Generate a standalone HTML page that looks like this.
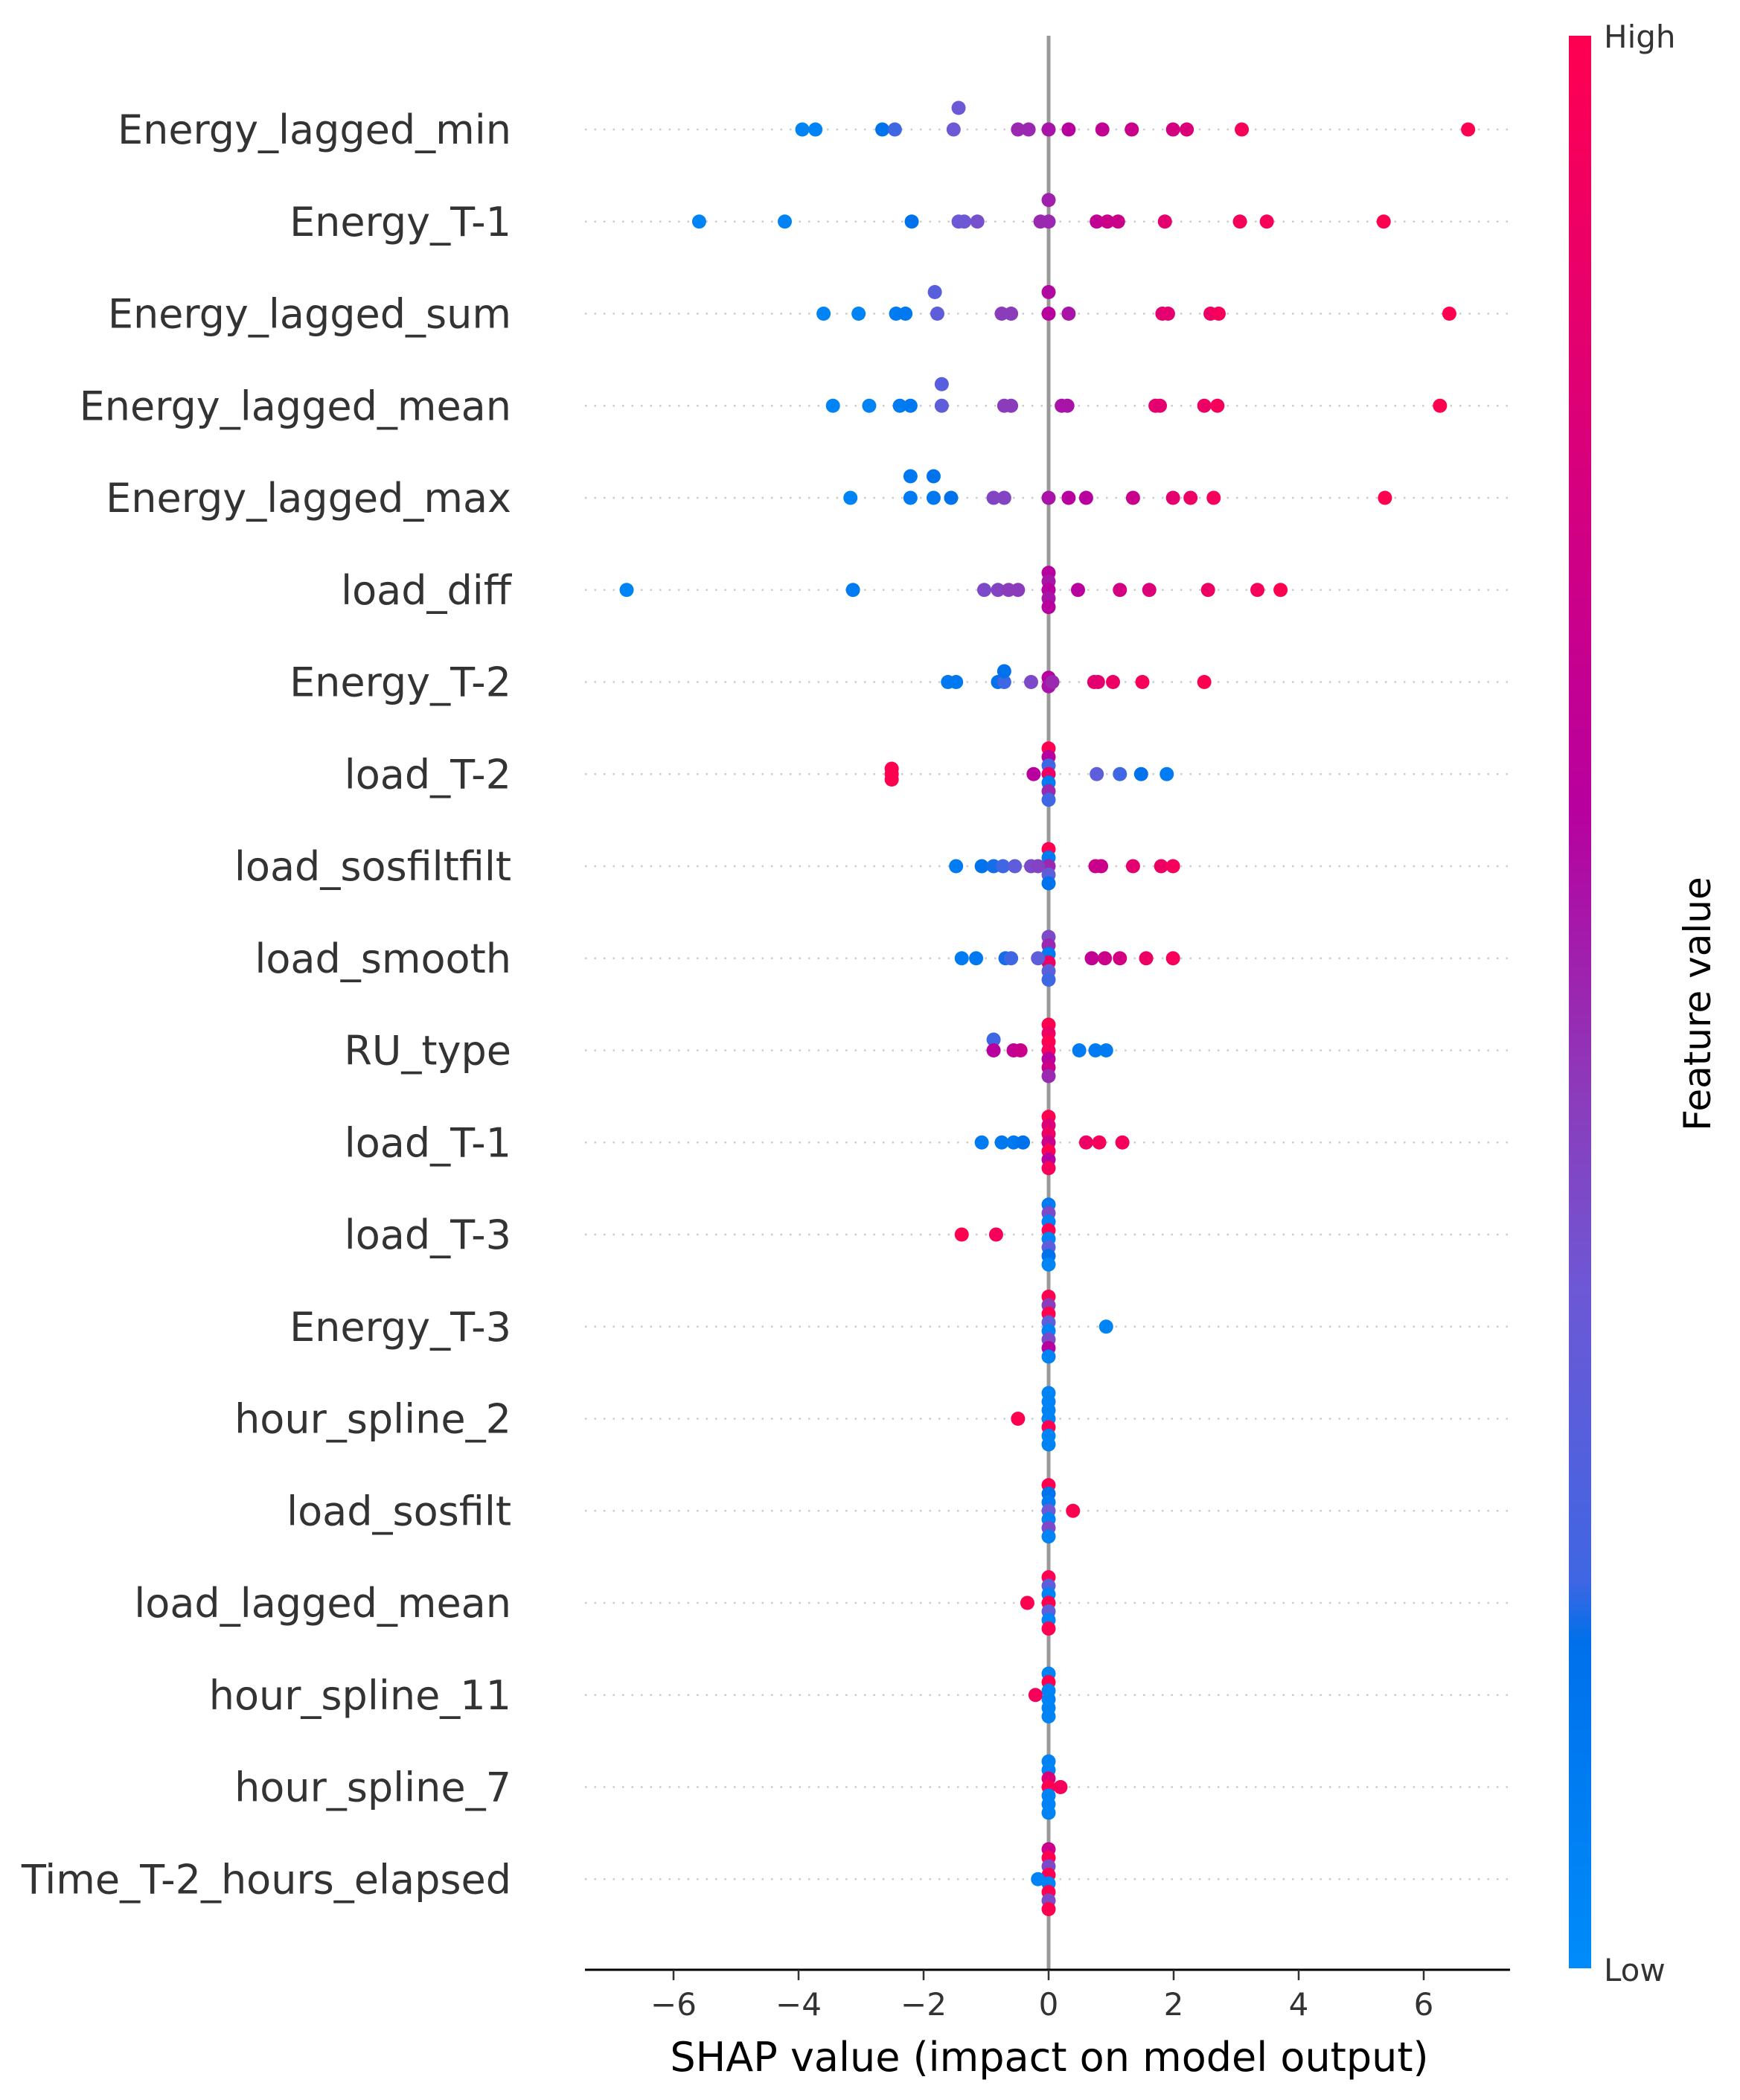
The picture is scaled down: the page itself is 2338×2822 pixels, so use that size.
<!DOCTYPE html>
<html><head><meta charset="utf-8">
<style>
html,body{margin:0;padding:0;background:#fff;}
svg{display:block;font-family:"DejaVu Sans","Liberation Sans",sans-serif;}
</style></head>
<body>
<svg id="chart" width="2338" height="2822" viewBox="0 0 2338 2822">
<defs>
<linearGradient id="cbg" x1="0" y1="1" x2="0" y2="0">
<stop offset="0" stop-color="#008bfa"/>
<stop offset="0.17" stop-color="#0070ea"/>
<stop offset="0.2" stop-color="#3f66e3"/>
<stop offset="0.35" stop-color="#6d58d5"/>
<stop offset="0.45" stop-color="#8b3cbb"/>
<stop offset="0.6" stop-color="#b8009e"/>
<stop offset="1" stop-color="#ff0051"/>
</linearGradient>
</defs>
<g id="grid"></g>
<line id="zeroline" x1="1409" y1="48" x2="1409" y2="2647" stroke="#999" stroke-width="5"/>
<g id="labels"></g>
<g id="dots"></g>
<line x1="786" y1="2647" x2="2029" y2="2647" stroke="#000" stroke-width="3"/>
<g id="xticks"></g>
<text x="1410" y="2783" font-size="54" fill="#000" text-anchor="middle">SHAP value (impact on model output)</text>
<rect x="2108" y="48" width="30" height="2597" fill="url(#cbg)"/>
<text x="2155" y="64" font-size="42" fill="#333">High</text>
<text x="2155" y="2662" font-size="42" fill="#333">Low</text>
<text x="0" y="0" font-size="50" fill="#000" text-anchor="middle" transform="translate(2298,1349) rotate(-90)">Feature value</text>
</svg>
<script>
const features = ["Energy_lagged_min","Energy_T-1","Energy_lagged_sum","Energy_lagged_mean","Energy_lagged_max","load_diff","Energy_T-2","load_T-2","load_sosfiltfilt","load_smooth","RU_type","load_T-1","load_T-3","Energy_T-3","hour_spline_2","load_sosfilt","load_lagged_mean","hour_spline_11","hour_spline_7","Time_T-2_hours_elapsed"];
const xTicks = [-6,-4,-2,0,2,4,6];
const shapValues = [
 [-3.94,-3.73,-2.66,-2.46,-1.52,-1.44,-0.49,-0.32,0,0.32,0.86,1.33,1.99,2.21,3.09,6.71],
 [-5.59,-4.22,-2.19,-1.44,-1.35,-1.14,-0.13,0,0,0.77,0.94,1.11,1.86,3.06,3.49,5.36],
 [-3.6,-3.04,-2.44,-2.29,-1.78,-1.82,-0.75,-0.6,0,0,0.32,1.82,1.91,2.59,2.72,6.41],
 [-3.45,-2.87,-2.38,-2.21,-1.71,-1.71,-0.71,-0.6,0.21,0.3,1.71,1.78,2.49,2.7,6.26],
 [-3.17,-2.21,-1.84,-1.56,-2.21,-1.84,-0.88,-0.71,0,0.32,0.6,1.35,1.99,2.27,2.64,5.38],
 [-6.75,-3.13,-1.03,-0.81,-0.64,-0.49,0.47,1.14,1.61,2.55,3.34,3.71],
 [-1.61,-1.48,-0.81,-0.71,-0.71,-0.28,0.06,0.73,0.79,1.03,1.5,2.49],
 [-2.51,-2.51,-2.51,-0.24,0.77,1.14,1.48,1.89],
 [-1.48,-1.07,-0.88,-0.73,-0.54,-0.28,-0.17,0.75,0.84,1.35,1.8,1.99],
 [-1.39,-1.16,-0.69,-0.6,-0.17,0.69,0.9,1.14,1.56,1.99],
 [-0.88,-0.88,-0.56,-0.45,0.49,0.75,0.92],
 [-1.07,-0.75,-0.56,-0.41,0.6,0.81,1.18],
 [-1.39,-0.84],
 [0.92],
 [-0.49],
 [0.39],
 [-0.34],
 [-0.21],
 [0.19],
 [-0.17]
];
const featureValues = [
 [0.05,0.05,0.15,0.2,0.35,0.35,0.5,0.5,0.55,0.6,0.65,0.7,0.75,0.8,0.95,1],
 [0.05,0.05,0.15,0.35,0.35,0.38,0.5,0.5,0.52,0.65,0.7,0.7,0.85,0.95,0.95,1],
 [0.05,0.05,0.1,0.12,0.3,0.28,0.45,0.45,0.6,0.58,0.55,0.85,0.85,0.9,0.95,1],
 [0.05,0.05,0.1,0.12,0.3,0.28,0.45,0.45,0.55,0.55,0.85,0.85,0.9,0.95,1],
 [0.05,0.1,0.12,0.15,0.12,0.15,0.42,0.42,0.55,0.6,0.6,0.7,0.85,0.9,0.95,1],
 [0.05,0.1,0.4,0.42,0.45,0.45,0.6,0.75,0.8,0.9,0.95,1],
 [0.12,0.12,0.15,0.2,0.15,0.4,0.5,0.85,0.85,0.9,0.95,1],
 [1,1,1,0.6,0.3,0.2,0.15,0.1],
 [0.1,0.15,0.18,0.2,0.3,0.4,0.42,0.7,0.7,0.85,0.9,0.95],
 [0.1,0.12,0.18,0.2,0.3,0.65,0.7,0.75,0.9,0.95],
 [0.2,0.6,0.65,0.7,0.1,0.1,0.1],
 [0.1,0.12,0.12,0.15,0.9,0.95,0.95],
 [1,0.95],
 [0.05],
 [1],
 [1],
 [1],
 [0.95],
 [0.95],
 [0.05]
];
const stackLevels = [
 [0,0,0,0,0,2,0,0,0,0,0,0,0,0,0,0],
 [0,0,0,0,0,0,0,0,2,0,0,0,0,0,0,0],
 [0,0,0,0,0,2,0,0,0,2,0,0,0,0,0,0],
 [0,0,0,0,0,2,0,0,0,0,0,0,0,0,0],
 [0,0,0,0,2,2,0,0,0,0,0,0,0,0,0,0],
 [0,0,0,0,0,0,0,0,0,0,0,0],
 [0,0,0,0,1,0,0,0,0,0,0,0],
 [-0.5,0,0.5,0,0,0,0,0],
 [0,0,0,0,0,0,0,0,0,0,0,0],
 [0,0,0,0,0,0,0,0,0,0],
 [1,0,0,0,0,0,0],
 [0,0,0,0,0,0,0],
 [0,0],[0],[0],[0],[0],[0],[0],[0]
];
const zeroStackValues = [
 [],[],[],[],[],
 [0.6,0.55,0.6,0.55,0.6],
 [0.6,0.55],
 [1,0.6,0.2,0.9,0.1,0.5,0.2],
 [1,0.1,0.5,0.3,0.15],
 [0.4,0.5,0.1,0.9,0.3,0.2],
 [1,0.9,1,0.95,0.6,0.7,0.5],
 [1,0.8,0.9,0.7,1,0.6,0.95],
 [0.1,0.4,0.05,1,0.05,0.3,0.15,0.05],
 [1,0.45,1,0.3,0.05,0.4,0.6,0.05],
 [0.05,0.05,0.05,0.05,1,0.05,0.05],
 [1,0.15,0.1,0.35,0.05,0.4,0.05],
 [1,0.3,0.05,1,0.3,0.05,1],
 [0.05,1,0.05,0.05,0.05,0.05],
 [0.05,0.05,0.8,1,0.05,0.05,0.05],
 [0.7,1,0.4,1,0.05,1,0.4,1]
];

const X0 = 1409, UNIT = 84, ROW0 = 174, ROWSTEP = 123.75, LVL = 14.5, STACK = 11.5, R = 9.5;
const xs = v => X0 + v * UNIT;
const ys = i => ROW0 + i * ROWSTEP;
const stops = [[0,[0,139,250]],[0.17,[0,112,234]],[0.2,[63,102,227]],[0.35,[109,88,213]],[0.45,[139,60,187]],[0.6,[184,0,158]],[1,[255,0,81]]];
function cmap(t){
  for(let k=1;k<stops.length;k++){
    if(t<=stops[k][0]){const a=stops[k-1],b=stops[k];const f=(t-a[0])/(b[0]-a[0]);
      return 'rgb('+a[1].map((c,j)=>Math.round(c+(b[1][j]-c)*f)).join(',')+')';}
  }
  return 'rgb(255,0,81)';
}
const NS='http://www.w3.org/2000/svg';
const zl=document.getElementById('zeroline');
zl.setAttribute('x1',xs(0));zl.setAttribute('x2',xs(0));
const grid=document.getElementById('grid'), labels=document.getElementById('labels'), dots=document.getElementById('dots'), xt=document.getElementById('xticks');
features.forEach((f,i)=>{
  const g=document.createElementNS(NS,'line');
  g.setAttribute('x1',786);g.setAttribute('x2',2029);g.setAttribute('y1',ys(i));g.setAttribute('y2',ys(i));
  g.setAttribute('stroke','#ccc');g.setAttribute('stroke-width',2.5);g.setAttribute('stroke-dasharray','2.5 10');
  
  
  grid.appendChild(g);
  const t=document.createElementNS(NS,'text');
  t.setAttribute('x',687);t.setAttribute('y',ys(i)+19);t.setAttribute('text-anchor','end');
  t.setAttribute('font-size',54);t.setAttribute('fill','#333');t.textContent=f;
  
  
  labels.appendChild(t);
  const zs=zeroStackValues[i];
  zs.forEach((c,k)=>{
    const off=(k-(zs.length-1)/2)*STACK;
    const e=document.createElementNS(NS,'circle');
    e.setAttribute('cx',xs(0));e.setAttribute('cy',ys(i)+off);e.setAttribute('r',R);e.setAttribute('fill',cmap(c));
    
    
    dots.appendChild(e);
  });
  shapValues[i].forEach((v,k)=>{
    const e=document.createElementNS(NS,'circle');
    e.setAttribute('cx',xs(v));e.setAttribute('cy',ys(i)-stackLevels[i][k]*LVL);e.setAttribute('r',R);
    e.setAttribute('fill',cmap(featureValues[i][k]));
    
    
    dots.appendChild(e);
  });
});
xTicks.forEach(v=>{
  const l=document.createElementNS(NS,'line');
  l.setAttribute('x1',xs(v));l.setAttribute('x2',xs(v));l.setAttribute('y1',2647);l.setAttribute('y2',2661);
  l.setAttribute('stroke','#333');l.setAttribute('stroke-width',2.5);
  
  
  xt.appendChild(l);
  const t=document.createElementNS(NS,'text');
  t.setAttribute('x',xs(v));t.setAttribute('y',2708);t.setAttribute('text-anchor','middle');
  t.setAttribute('font-size',42);t.setAttribute('fill','#333');
  t.textContent=v<0?'\u2212'+Math.abs(v):String(v);
  
  
  xt.appendChild(t);
});
</script>
</body></html>
